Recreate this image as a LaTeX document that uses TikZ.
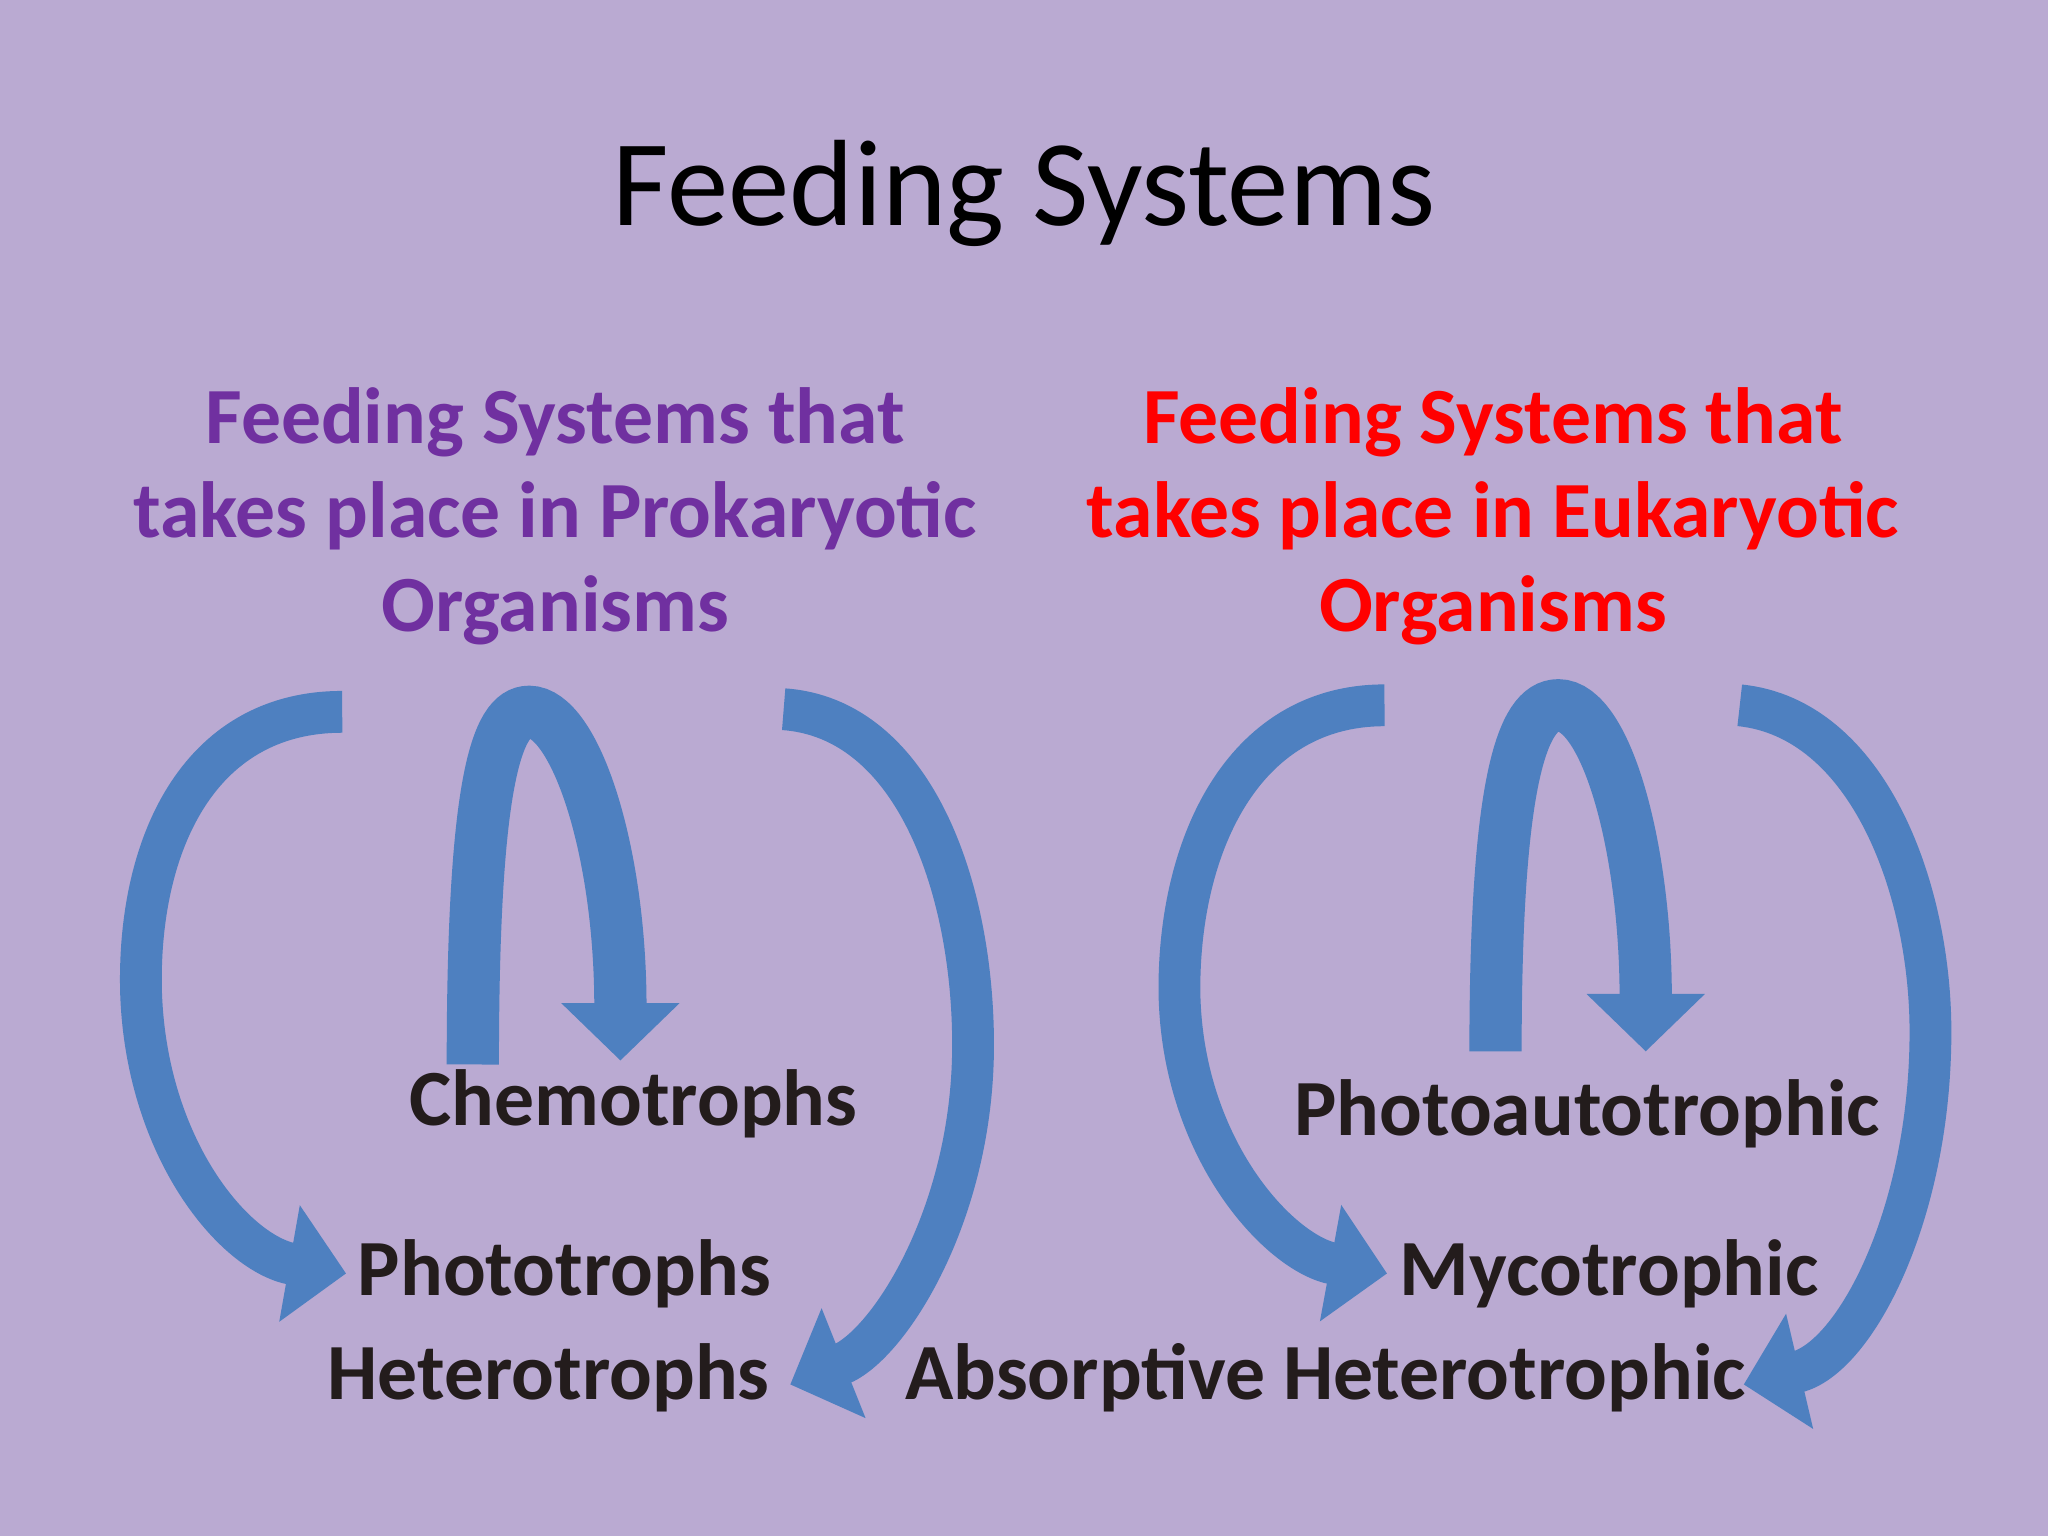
\documentclass[tikz,border=0pt]{standalone}
\usepackage{fontspec}
\setmainfont{Carlito}
\usetikzlibrary{arrows.meta}
\definecolor{bg}{RGB}{186,170,210}
\definecolor{arr}{RGB}{78,128,192}
\definecolor{prok}{RGB}{112,48,160}
\definecolor{lbl}{RGB}{35,28,28}
\tikzset{
  band/.style={draw=arr, line width=16pt, -{Triangle[width=44pt,length=22pt]}},
  midband/.style={band, line width=20pt},
  head/.style={font=\bfseries\fontsize{30.5pt}{36pt}\selectfont, align=center},
  lab/.style={font=\bfseries\fontsize{30.5pt}{36pt}\selectfont, text=lbl}
}
\begin{document}
\begin{tikzpicture}[x=0.5pt,y=-0.5pt]
\fill[bg] (0,0) rectangle (1568,1176);
\useasboundingbox (0,0) rectangle (1568,1176);
\node[font=\fontsize{47pt}{56pt}\selectfont] (title) at (784,148) {Feeding Systems};
\node[head,text=prok] (hl) at (425,395) {Feeding Systems that\\takes place in Prokaryotic\\Organisms};
\node[head,text=red] (hr) at (1143,395) {Feeding Systems that\\takes place in Eukaryotic\\Organisms};
\node[lab] (chemo) at (485,845) {Chemotrophs};
\node[lab] (photo) at (432,975) {Phototrophs};
\node[lab] (hetero) at (420,1055) {Heterotrophs};
\node[lab] (pa) at (1215,853) {Photoautotrophic};
\node[lab] (myco) at (1232,975) {Mycotrophic};
\node[lab] (abs) at (1015,1055) {Absorptive Heterotrophic};
% left diagram
\coordinate (a1) at (262,545); \coordinate (a1e) at (265,975);
\coordinate (b1) at (362,815); \coordinate (b1e) at (475,812);
\coordinate (c1) at (600,543); \coordinate (c1e) at (605,1060);
\draw[band] (a1) .. controls (150,545) and (105,650) .. (108,760) .. controls (112,880) and (180,960) .. (a1e);
\draw[midband] (b1) .. controls (362,600) and (380,545) .. (405,545) .. controls (440,545) and (475,650) .. (b1e);
\draw[band] (c1) .. controls (700,550) and (745,680) .. (745,800) .. controls (745,930) and (680,1030) .. (c1e);
% right diagram
\coordinate (a2) at (1060,540); \coordinate (a2e) at (1062,975);
\coordinate (b2) at (1145,805); \coordinate (b2e) at (1260,805);
\coordinate (c2) at (1332,540); \coordinate (c2e) at (1335,1060);
\draw[band] (a2) .. controls (950,540) and (902,650) .. (903,760) .. controls (905,880) and (980,960) .. (a2e);
\draw[midband] (b2) .. controls (1145,600) and (1165,540) .. (1193,540) .. controls (1230,540) and (1260,650) .. (b2e);
\draw[band] (c2) .. controls (1430,550) and (1478,680) .. (1478,790) .. controls (1478,930) and (1420,1040) .. (c2e);
\end{tikzpicture}
\end{document}
